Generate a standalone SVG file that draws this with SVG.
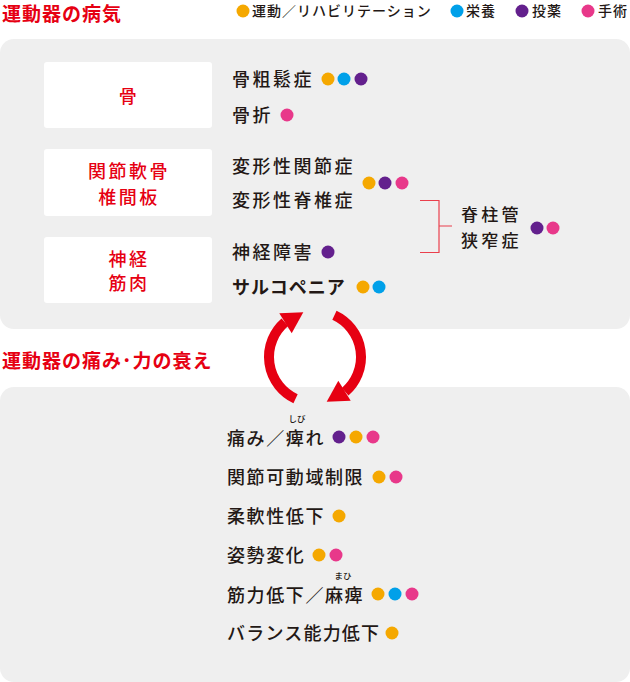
<svg xmlns="http://www.w3.org/2000/svg" width="630" height="682" viewBox="0 0 630 682">
<style>
text{font-family:"Noto Sans CJK JP","Noto Sans",sans-serif;}
.title{font-size:19px;font-weight:700;fill:#e60012;letter-spacing:1px;}
.leg{font-size:14px;font-weight:500;fill:#231815;letter-spacing:1px;}
.lbl{font-size:18px;font-weight:500;fill:#e60012;letter-spacing:2.5px;text-anchor:middle;}
.it{font-size:18px;font-weight:500;fill:#231815;letter-spacing:2.5px;}
.st{font-size:17px;letter-spacing:3.3px;}
.bt{font-size:18px;font-weight:500;fill:#231815;letter-spacing:1.6px;}
.b{font-weight:700;letter-spacing:1px;}
.bb{letter-spacing:1.2px;}
.ruby{font-size:8.5px;font-weight:500;fill:#231815;text-anchor:middle;}
.panel{fill:#efefef;}
.box{fill:#ffffff;}
.o{fill:#f5a800;}
.c{fill:#00a0e9;}
.p{fill:#63208d;}
.k{fill:#e8388a;}
.arc{fill:none;stroke:#e60012;stroke-width:10;stroke-linecap:butt;}
.head{fill:#e60012;}
.brk{fill:none;stroke:#ea3f4c;stroke-width:1.2;}
</style>
<defs>
<circle id="dot" r="6.5"/>
</defs>
<rect class="panel" x="0" y="39" width="630" height="290" rx="14"/>
<rect class="panel" x="0" y="387" width="630" height="295" rx="14"/>
<g id="title1"><text class="title" x="2" y="21">運動器の病気</text></g>
<g id="legend">
<use href="#dot" class="o" x="243" y="11"/><text class="leg" x="252" y="16">運動／リハビリテーション</text>
<use href="#dot" class="c" x="457" y="11"/><text class="leg" x="466" y="16">栄養</text>
<use href="#dot" class="p" x="522" y="11"/><text class="leg" x="532" y="16">投薬</text>
<use href="#dot" class="k" x="588" y="11"/><text class="leg" x="598" y="16">手術</text>
</g>
<g id="cat-bone"><rect class="box" x="44" y="62" width="168" height="66" rx="3"/><text class="lbl" x="129" y="103">骨</text></g>
<g id="cat-joint"><rect class="box" x="44" y="149" width="168" height="67" rx="3"/><text class="lbl" x="129" y="178">関節軟骨</text><text class="lbl" x="129" y="204">椎間板</text></g>
<g id="cat-nerve"><rect class="box" x="44" y="237" width="168" height="66" rx="3"/><text class="lbl" x="129" y="266">神経</text><text class="lbl" x="129" y="290">筋肉</text></g>
<g id="osteoporosis"><text class="it" x="232" y="85.8">骨粗鬆症</text><use href="#dot" class="o" x="328" y="79"/><use href="#dot" class="c" x="344" y="79"/><use href="#dot" class="p" x="361" y="79"/></g>
<g id="fracture"><text class="it" x="232" y="121.8">骨折</text><use href="#dot" class="k" x="287" y="115"/></g>
<g id="oa"><text class="it" x="232" y="172.8">変形性関節症</text><text class="it" x="232" y="206.8">変形性脊椎症</text><use href="#dot" class="o" x="369" y="183"/><use href="#dot" class="p" x="385" y="183"/><use href="#dot" class="k" x="402" y="183"/></g>
<g id="stenosis"><text class="it st" x="461" y="221">脊柱管</text><text class="it st" x="461" y="247">狭窄症</text><use href="#dot" class="p" x="537" y="228"/><use href="#dot" class="k" x="553" y="228"/></g>
<g id="neuropathy"><text class="it" x="232" y="258.8">神経障害</text><use href="#dot" class="p" x="328" y="252"/></g>
<g id="sarcopenia"><text class="it b" x="232" y="293.8">サルコペニア</text><use href="#dot" class="o" x="363" y="287"/><use href="#dot" class="c" x="379" y="287"/></g>
<g id="title2"><text class="title" x="2" y="368">運動器の痛み･力の衰え</text></g>
<g id="pain"><text class="bt" x="227" y="444.8">痛み／痺れ</text><text class="ruby" x="297" y="421.5">しび</text><use href="#dot" class="p" x="339" y="437"/><use href="#dot" class="o" x="356" y="437"/><use href="#dot" class="k" x="373" y="437"/></g>
<g id="rom"><text class="bt" x="227" y="484.3">関節可動域制限</text><use href="#dot" class="o" x="379" y="477"/><use href="#dot" class="k" x="396" y="477"/></g>
<g id="flex"><text class="bt" x="227" y="522.8">柔軟性低下</text><use href="#dot" class="o" x="339" y="516"/></g>
<g id="posture"><text class="bt" x="227" y="561.8">姿勢変化</text><use href="#dot" class="o" x="319" y="555"/><use href="#dot" class="k" x="336" y="555"/></g>
<g id="weakness"><text class="bt" x="227" y="601.5">筋力低下／麻痺</text><text class="ruby" x="343" y="579">まひ</text><use href="#dot" class="o" x="378" y="594"/><use href="#dot" class="c" x="395" y="594"/><use href="#dot" class="k" x="412" y="594"/></g>
<g id="balance"><text class="bt bb" x="227" y="639.8">バランス能力低下</text><use href="#dot" class="o" x="392" y="633"/></g>
<g id="connectors">
<path class="arc" d="M295.56,398.69 A46,46 0 0 1 284.82,322.28"/>
<polygon class="head" points="279.3,313.3 303.3,312.3 291.7,333.3"/>
<path class="arc" d="M334.44,315.31 A46,46 0 0 1 345.18,391.72"/>
<polygon class="head" points="350.7,400.7 326.7,401.7 338.3,380.7"/>
<path class="brk" d="M420,200.5 H439 V252.5 H420 M439,226 H452"/>
</g>
</svg>
